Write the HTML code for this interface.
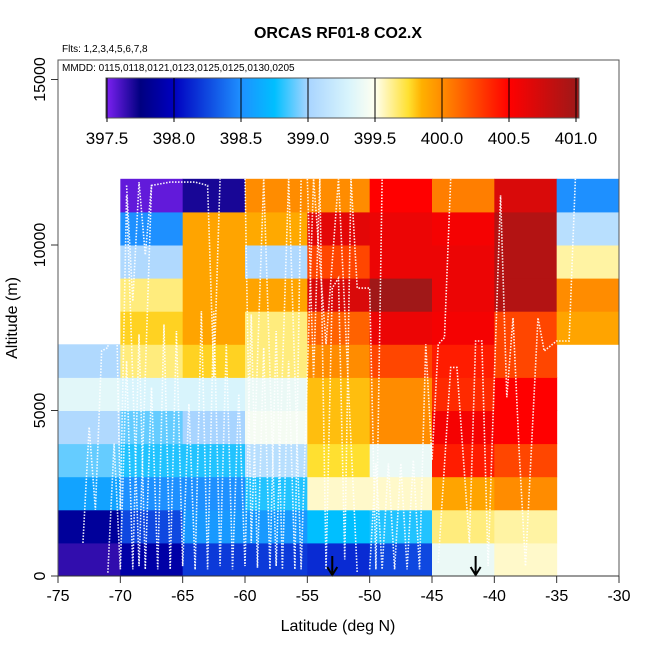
<!DOCTYPE html>
<html><head><meta charset="utf-8">
<style>html,body{margin:0;padding:0;background:#fff}svg{display:block;font-family:"Liberation Sans",sans-serif}</style>
</head><body>
<svg id="chart" width="650" height="650" viewBox="0 0 650 650" xmlns="http://www.w3.org/2000/svg">
<text x="338" y="38" text-anchor="middle" font-size="16" font-weight="bold">ORCAS RF01-8 CO2.X</text>
<text x="62" y="52" font-size="10">Flts: 1,2,3,4,5,6,7,8</text>
<g id="cells"></g>
<g id="tracks"></g>
<g id="arrows"></g>
<rect x="58" y="60" width="561" height="516" fill="none" stroke="#555" stroke-width="1"/>
<text x="62" y="71" font-size="10">MMDD: 0115,0118,0121,0123,0125,0125,0130,0205</text>
<g id="cbar"></g>
<g id="axes"></g>
<text x="338" y="631" text-anchor="middle" font-size="16">Latitude (deg N)</text>
<text transform="translate(17,318) rotate(-90)" text-anchor="middle" font-size="16">Altitude (m)</text>
</svg>
<script>
const latEdges = [-75,-70,-65,-60,-55,-50,-45,-40,-35,-30];
const altEdges = [0,1000,2000,3000,4000,5000,6000,7000,8000,9000,10000,11000,12000];
// rows bottom (0-1km) to top (11-12km), columns -75..-30
const co2Grid = [
 [397.65,397.9,398.2,398.2,398.15,398.25,399.4,399.55,null],
 [397.85,398.25,398.55,398.55,398.75,398.8,399.65,399.6,null],
 [398.6,398.5,398.5,398.8,399.55,399.55,399.9,400.0,null],
 [398.9,398.8,398.8,399.1,399.75,399.4,400.4,400.25,null],
 [399.05,398.9,399.0,399.45,399.82,400.0,400.55,400.5,null],
 [399.35,399.3,399.3,399.4,399.82,400.0,400.35,400.5,null],
 [399.05,399.65,399.78,399.65,400.0,400.25,400.4,400.25,null],
 [null,399.78,399.9,399.65,400.15,400.6,400.55,400.25,399.9],
 [null,399.65,399.9,399.9,400.7,401.0,400.6,400.9,400.0],
 [null,399.05,399.9,399.05,400.25,400.6,400.6,400.9,399.6],
 [null,398.5,399.9,399.88,400.65,400.6,400.55,400.9,399.1],
 [null,397.55,397.7,400.0,400.0,400.5,400.05,400.7,398.5]
];
const xTicks = [-75,-70,-65,-60,-55,-50,-45,-40,-35,-30];
const yTicks = [0,5000,10000,15000];
const cbTicks = [397.5,398.0,398.5,399.0,399.5,400.0,400.5,401.0];
const stopVals = [397.5,397.75,398.0,398.5,398.75,399.0,399.3,399.5,399.75,399.85,400.0,400.5,401.0];
const stopCols = ["#7a20f0","#000080","#0000c0","#1e90ff","#00bfff","#a8d4ff","#d8f4fc","#fffff0","#ffe030","#ffb000","#ff8c00","#ff0000","#a01818"];
const arrowLats = [-53,-41.5];
// flight track vertices [lat, alt]
const track1 = [[-71,100],[-70.5,4000],[-70,200],[-69.5,6500],[-69,200],[-68.5,7300],[-68,200],[-67.5,5700],[-67,200],[-66.5,7600],[-66,200],[-65.5,7400],[-65,300],[-64.5,5200],[-64,200]];
const track2 = [[-69.5,11800],[-69,8300],[-68.5,11900],[-68,9700],[-67.5,11800],[-66,11900],[-64,11900],[-63,11800],[-62.5,6000],[-62,12000]];
const track3 = [[-64,200],[-63.5,8000],[-63,200],[-62.5,8000],[-62,300],[-61.5,7000],[-61,200],[-60.5,5500],[-60,300],[-59.5,7900],[-59,250],[-58.5,6900],[-58,200],[-57.5,7400],[-57,200],[-56.5,6500],[-56,200],[-55.5,12000]];
const track4 = [[-55,12000],[-54.5,6000],[-54,12000],[-53.5,200],[-53,8700],[-52.5,9000],[-52,500],[-51.5,12000],[-51,8700],[-50,8700],[-49.5,200],[-49,12000]];
const track5 = [[-50,200],[-49.5,3400],[-49,200],[-48.5,3400],[-48,200],[-47.5,3400],[-47,200],[-46.5,3500],[-46,200],[-45.5,7000],[-45,3500],[-44.5,7000],[-44,7200],[-43.5,12000]];
const track6 = [[-44.5,400],[-43.5,6300],[-43,6300],[-42,1000],[-41.5,7100],[-41,7100],[-40.5,300],[-40,6000],[-39.5,11500],[-39,5400],[-38.5,7800],[-38,3700],[-37.5,300],[-36.5,7800],[-36,6800],[-35,7100],[-34,7100],[-33.5,12000]];
const track7 = [[-73,1000],[-72.5,4500],[-72,2000],[-71.5,6800],[-71,6900],[-70.5,11800],[-70,2000],[-69.5,11500],[-68.5,300],[-67.5,11800]];
const track8 = [[-60,12000],[-59.5,1000],[-58.5,12000],[-57.5,300],[-56.5,12000],[-55.5,200],[-54.5,12000],[-53.5,7000],[-52.5,12000],[-51,100]];
const tracks = [track1,track2,track3,track4,track5,track6,track7,track8];

const X0=58,X1=619,Y0=576,Y1=79.5;
const xs = v => X0 + (v+75)/45*(X1-X0);
const ys = v => Y0 - v/15000*(Y0-Y1);
const CB0=107,CB1=576;
const cbx = v => CB0 + (v-397.5)/3.5*(CB1-CB0);
const NS="http://www.w3.org/2000/svg";
function mk(tag, attrs, parent){const e=document.createElementNS(NS,tag);for(const k in attrs)e.setAttribute(k,attrs[k]);parent.appendChild(e);return e;}
function hex2rgb(h){return [parseInt(h.slice(1,3),16),parseInt(h.slice(3,5),16),parseInt(h.slice(5,7),16)];}
function colorFor(v){
  if(v<=stopVals[0])return stopCols[0];
  for(let i=1;i<stopVals.length;i++){
    if(v<=stopVals[i]){const t=(v-stopVals[i-1])/(stopVals[i]-stopVals[i-1]);const a=hex2rgb(stopCols[i-1]),b=hex2rgb(stopCols[i]);
      return "rgb("+a.map((c,j)=>Math.round(c+(b[j]-c)*t)).join(",")+")";}
  }
  return stopCols[stopCols.length-1];
}
const cells=document.getElementById('cells');
co2Grid.forEach((row,r)=>row.forEach((v,c)=>{
  if(v===null)return;
  const x=xs(latEdges[c]),x2=xs(latEdges[c+1]),y=ys(altEdges[r+1]),y2=ys(altEdges[r]);
  const e=mk('rect',{x:x,y:y,width:x2-x+0.5,height:y2-y+0.5,fill:colorFor(v)},cells);
  
  
}));
const tg=document.getElementById('tracks');
tracks.forEach(t=>{
  const e=mk('polyline',{points:t.map(p=>xs(p[0])+","+ys(p[1])).join(" "),fill:"none",stroke:"#fff","stroke-width":1.6,"stroke-dasharray":"1.5 1.5","opacity":0.95},tg);
  
  
});
const ag=document.getElementById('arrows');
arrowLats.forEach(l=>{
  const x=xs(l);
  const e=mk('path',{d:`M${x},556 L${x},575 M${x-5},567 L${x},575 L${x+5},567`,stroke:"#000","stroke-width":2,fill:"none"},ag);
  
  
});
// color bar
const cb=document.getElementById('cbar');
const defs=mk('defs',{},cb);
const grad=mk('linearGradient',{id:'cg',x1:0,x2:1,y1:0,y2:0},defs);
stopVals.forEach((v,i)=>{mk('stop',{offset:((v-397.5)/3.5*(CB1-CB0)+1)/(579-106),'stop-color':stopCols[i]},grad);});
const br=mk('rect',{x:106,y:78,width:473,height:40,fill:'url(#cg)',stroke:'#555','stroke-width':1},cb);


cbTicks.forEach(v=>{
  const x=cbx(v);
  mk('line',{x1:x,x2:x,y1:78,y2:122,stroke:'#000','stroke-width':1},cb);
  const t=mk('text',{x:x,y:144,'text-anchor':'middle','font-size':17},cb);
  t.textContent=v.toFixed(1);
  
  
});
// axes
const ax=document.getElementById('axes');
mk('line',{x1:X0,x2:X1,y1:576,y2:576,stroke:'#333'},ax);
xTicks.forEach(v=>{
  const x=xs(v);
  mk('line',{x1:x,x2:x,y1:576,y2:583,stroke:'#333'},ax);
  const t=mk('text',{x:x,y:601,'text-anchor':'middle','font-size':16},ax);
  t.textContent=v;
  
  
});
yTicks.forEach(v=>{
  const y=ys(v);
  mk('line',{x1:51,x2:58,y1:y,y2:y,stroke:'#333'},ax);
  const t=mk('text',{transform:`translate(45,${y}) rotate(-90)`,'text-anchor':'middle','font-size':16},ax);
  t.textContent=v;
  
  
});
</script>
</body></html>
